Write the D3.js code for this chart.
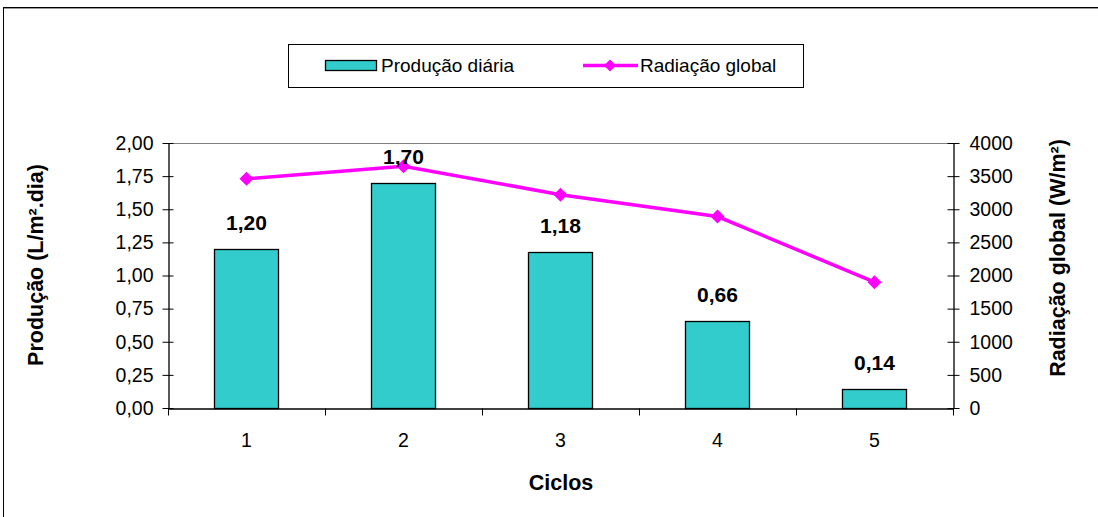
<!DOCTYPE html>
<html>
<head>
<meta charset="utf-8">
<script src="https://cdn.jsdelivr.net/npm/d3@7"></script>
<style>
  body { margin: 0; background: #fff; }
  svg { display: block; font-family: "Liberation Sans", Arial, sans-serif; }
</style>
</head>
<body>
<svg id="chart" width="1098" height="517"></svg>
<script>
// --- data ---
const ciclos = ["1", "2", "3", "4", "5"];
const producao = [1.20, 1.70, 1.18, 0.66, 0.14];
const radiacao = [3460, 3650, 3220, 2890, 1900];
const leftTicks = [0, 0.25, 0.5, 0.75, 1, 1.25, 1.5, 1.75, 2];
const rightTicks = [0, 500, 1000, 1500, 2000, 2500, 3000, 3500, 4000];

const svg = d3.select("#chart");
const plot = {left: 168, right: 953, top: 143, bottom: 408};
const fmt = v => d3.format(".2f")(v).replace(".", ",");

// outer frame (only top/left edges visible)
svg.append("rect").attr("x", 3.5).attr("y", 7.5).attr("width", 1200).attr("height", 600)
   .attr("fill", "none").attr("stroke", "#000").attr("stroke-width", 1);
svg.append("line").attr("x1", 4).attr("x2", 1098).attr("y1", 8.5).attr("y2", 8.5)
   .attr("stroke", "#999").attr("stroke-width", 1);

// scales
const x = d3.scaleBand().domain(ciclos).range([plot.left, plot.right]).paddingInner(0.59).paddingOuter(0.295);
const xc = d3.scaleBand().domain(ciclos).range([plot.left, plot.right]);
const yL = d3.scaleLinear().domain([0, 2]).range([plot.bottom, plot.top]);
const yR = d3.scaleLinear().domain([0, 4000]).range([plot.bottom, plot.top]);

// plot area top border
svg.append("line").attr("x1", plot.left).attr("x2", plot.right)
   .attr("y1", plot.top + 0.5).attr("y2", plot.top + 0.5).attr("stroke", "#808080");

// bars
svg.append("g").selectAll("rect").data(producao).join("rect")
   .attr("x", (d, i) => Math.round(x(ciclos[i])) + 0.5)
   .attr("y", d => Math.round(yL(d)) + 0.5)
   .attr("width", Math.round(x.bandwidth()))
   .attr("height", d => Math.round(yL(0)) - Math.round(yL(d)))
   .attr("fill", "#33CCCC").attr("stroke", "#000").attr("stroke-width", 1.3);

// left axis
const axL = svg.append("g").attr("transform", `translate(${plot.left + 0.5},0)`)
   .call(d3.axisLeft(yL).tickValues(leftTicks).tickFormat(fmt).tickSizeInner(6).tickSizeOuter(0).tickPadding(9));
axL.selectAll("line").attr("x2", 5).attr("x1", -6);
// right axis
const axR = svg.append("g").attr("transform", `translate(${plot.right + 0.5},0)`)
   .call(d3.axisRight(yR).tickValues(rightTicks).tickFormat(d3.format("d")).tickSizeInner(6).tickSizeOuter(0).tickPadding(10));
axR.selectAll("line").attr("x1", -6).attr("x2", 6);
// bottom axis, ticks at category boundaries
const axB = svg.append("g").attr("transform", `translate(0,${plot.bottom + 0.5})`)
   .call(d3.axisBottom(xc).tickSize(0).tickPadding(25));
axB.selectAll(".tick line").remove();
axB.selectAll("line.bound").data(d3.range(6)).join("line").attr("class", "bound")
   .attr("x1", i => Math.round(plot.left + i * xc.step()) + 0.5)
   .attr("x2", i => Math.round(plot.left + i * xc.step()) + 0.5)
   .attr("y1", 0).attr("y2", 7).attr("stroke", "#000");

[axL, axR, axB].forEach(a => {
  a.selectAll("path").attr("stroke", "#000").attr("stroke-width", 1.3);
  a.selectAll("line").attr("stroke", "#000");
  a.selectAll("text").attr("font-size", 19.5).attr("fill", "#000")
   .attr("font-family", "Liberation Sans, Arial, sans-serif");
});

// line series
const line = d3.line().x((d, i) => xc(ciclos[i]) + xc.bandwidth() / 2).y(d => yR(d));
svg.append("path").datum(radiacao).attr("d", line)
   .attr("fill", "none").attr("stroke", "#FF00FF").attr("stroke-width", 3.5);
svg.append("g").selectAll("path").data(radiacao).join("path")
   .attr("transform", (d, i) => `translate(${xc(ciclos[i]) + xc.bandwidth() / 2},${yR(d)})`)
   .attr("d", "M0,-7L7,0L0,7L-7,0Z").attr("fill", "#FF00FF");

// data labels
svg.append("g").selectAll("text").data(producao).join("text")
   .attr("x", (d, i) => x(ciclos[i]) + x.bandwidth() / 2)
   .attr("y", d => yL(d) - 19)
   .attr("text-anchor", "middle").attr("font-size", 21).attr("font-weight", "bold")
   .text(d => fmt(d));

// axis titles
svg.append("text").attr("transform", "translate(43,265) rotate(-90)")
   .attr("text-anchor", "middle").attr("font-size", 21.5).attr("font-weight", "bold")
   .text("Produção (L/m².dia)");
svg.append("text").attr("transform", "translate(1065,258) rotate(-90)")
   .attr("text-anchor", "middle").attr("font-size", 21.5).attr("font-weight", "bold")
   .text("Radiação global (W/m²)");
svg.append("text").attr("x", 561).attr("y", 490)
   .attr("text-anchor", "middle").attr("font-size", 21.5).attr("font-weight", "bold")
   .text("Ciclos");

// legend
const lg = svg.append("g");
lg.append("rect").attr("x", 288.5).attr("y", 44.5).attr("width", 515).attr("height", 43)
  .attr("fill", "#fff").attr("stroke", "#000");
lg.append("rect").attr("x", 325.5).attr("y", 60.5).attr("width", 51).attr("height", 10)
  .attr("fill", "#33CCCC").attr("stroke", "#000").attr("stroke-width", 1.3);
lg.append("text").attr("x", 381).attr("y", 72).attr("font-size", 19).text("Produção diária");
lg.append("line").attr("x1", 583).attr("x2", 638).attr("y1", 65.5).attr("y2", 65.5)
  .attr("stroke", "#FF00FF").attr("stroke-width", 3.5);
lg.append("path").attr("transform", "translate(610,65.5)").attr("d", "M0,-6L6,0L0,6L-6,0Z").attr("fill", "#FF00FF");
lg.append("text").attr("x", 640).attr("y", 72).attr("font-size", 19).text("Radiação global");
</script>
</body>
</html>
